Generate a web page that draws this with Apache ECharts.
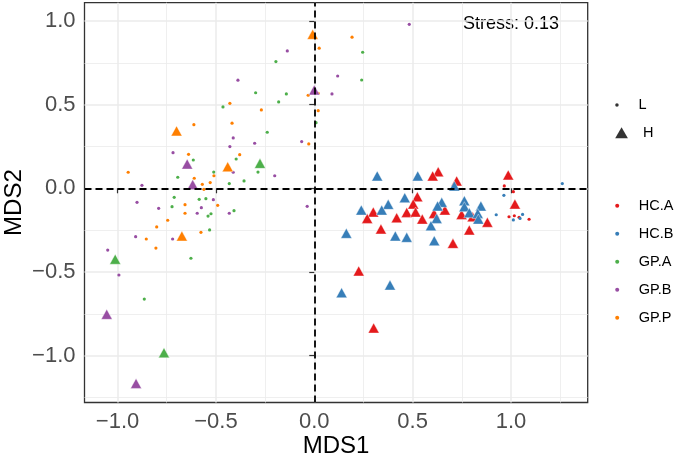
<!DOCTYPE html>
<html><head><meta charset="utf-8">
<script src="https://cdn.jsdelivr.net/npm/echarts@6/dist/echarts.min.js"></script>
<style>html,body{margin:0;padding:0;background:#fff}#c{width:685px;height:458px}</style>
</head><body><div id="c"></div>
<script>
// ---- data (MDS1, MDS2) ----
const groups = ['HC.A', 'HC.B', 'GP.A', 'GP.B', 'GP.P'];
const levels = ['L', 'H'];
const xTicks = [-1, -0.5, 0, 0.5, 1];
const yTicks = [-1, -0.5, 0, 0.5, 1];
const xMinor = [-0.75, -0.25, 0.25, 0.75, 1.25];
const yMinor = [-1.25, -0.75, -0.25, 0.25, 0.75];
const stressLabel = 'Stress: 0.13';

const HC_A_L = [[0.966,0.014],[1.012,-0.020],[0.990,-0.170],[1.017,-0.164],[1.041,-0.173],[1.092,-0.185]];
const HC_B_L = [[1.261,0.028],[0.964,-0.042],[0.925,-0.158],[1.059,-0.156],[1.046,-0.180],[1.012,-0.189]];
const GP_A_L = [[0.246,0.813],[0.241,0.647],[-0.195,0.757],[-0.298,0.571],[-0.142,0.564],[0.009,0.392],[-0.181,0.516],[-0.464,0.486],[-0.239,0.335],[-0.615,0.169],[-0.397,0.175],[-0.694,0.066],[-0.511,0.097],[-0.286,0.097],[-0.357,0.044],[-0.432,0.028],[-0.712,-0.054],[-0.585,-0.066],[-0.551,-0.062],[-0.723,-0.110],[-0.408,-0.134],[-0.525,-0.152],[-0.540,-0.166],[-0.532,-0.249],[-0.627,-0.418],[-0.864,-0.662]];
const GP_B_L = [[0.483,0.980],[0.119,0.671],[0.090,0.564],[-0.137,0.821],[-0.388,0.646],[-0.412,0.301],[-0.429,0.249],[-0.303,0.269],[-0.064,0.279],[-0.718,0.213],[-0.412,0.096],[-0.201,0.075],[-0.876,0.018],[-0.513,-0.068],[-0.791,-0.120],[-0.574,-0.116],[-0.432,-0.149],[-0.595,-0.149],[-0.720,-0.303],[-0.036,-0.108],[-0.901,-0.084],[-0.908,-0.289],[-1.050,-0.369],[-0.993,-0.518]];
const GP_P_L = [[0.192,0.903],[0.025,0.837],[-0.031,0.556],[0.020,0.568],[0.020,0.464],[-0.269,0.468],[-0.429,0.508],[-0.418,0.389],[-0.612,0.380],[-0.028,0.265],[-0.639,0.203],[-0.379,0.201],[-0.946,0.096],[-0.610,0.060],[-0.510,0.075],[-0.529,0.034],[-0.569,0.024],[-0.561,-0.006],[-0.657,-0.098],[-0.491,-0.102],[-0.657,-0.149],[-0.745,-0.191],[-0.801,-0.231],[-0.576,-0.263],[-0.805,-0.357],[-0.854,-0.303]];

const HC_A_H = [[0.630,0.099],[0.602,0.074],[0.724,0.044],[0.986,0.080],[1.020,-0.094],[0.524,-0.050],[0.503,-0.094],[0.300,-0.142],[0.269,-0.180],[0.419,-0.176],[0.470,-0.144],[0.515,-0.142],[0.549,-0.184],[0.609,-0.150],[0.664,-0.130],[0.749,-0.156],[0.805,-0.170],[0.880,-0.203],[0.339,-0.243],[0.788,-0.249],[0.705,-0.329],[0.226,-0.494],[0.302,-0.835]];
const HC_B_H = [[0.320,0.074],[0.526,0.074],[0.712,0.014],[0.460,-0.056],[0.376,-0.096],[0.239,-0.130],[0.343,-0.130],[0.648,-0.084],[0.627,-0.106],[0.622,-0.180],[0.593,-0.224],[0.763,-0.074],[0.763,-0.110],[0.847,-0.106],[0.788,-0.146],[0.831,-0.150],[0.834,-0.184],[0.163,-0.269],[0.412,-0.285],[0.470,-0.293],[0.610,-0.313],[0.385,-0.578],[0.139,-0.624]];
const GP_A_H = [[-0.276,0.149],[-1.012,-0.424],[-0.764,-0.983]];
const GP_B_H = [[0.000,0.588],[-0.646,0.145],[-0.618,0.022],[-1.055,-0.753],[-0.906,-1.166]];
const GP_P_H = [[-0.008,0.920],[-0.700,0.343],[-0.440,0.129],[-0.673,-0.285]];

const dataL = {'HC.A': HC_A_L, 'HC.B': HC_B_L, 'GP.A': GP_A_L, 'GP.B': GP_B_L, 'GP.P': GP_P_L};
const dataH = {'HC.A': HC_A_H, 'HC.B': HC_B_H, 'GP.A': GP_A_H, 'GP.B': GP_B_H, 'GP.P': GP_P_H};

// ---- styles ----
const palette = {'HC.A': '#E41A1C', 'HC.B': '#377EB8', 'GP.A': '#4DAF4A', 'GP.B': '#984EA3', 'GP.P': '#FF7F00'};
const FONT = "'Liberation Sans', Arial, Helvetica, sans-serif";
const xMin = -1.168, xMax = 1.39, yMin = -1.28, yMax = 1.109;
const fmt = v => (v < 0 ? '\u2212' : '') + Math.abs(v).toFixed(1);
const TRI = 'path://M5,0L10,8.66L0,8.66Z';

const series = [];
groups.forEach(g => series.push({
  name: g, type: 'scatter', data: dataL[g], symbol: 'circle', symbolSize: 3.2,
  itemStyle: {color: palette[g], opacity: 1}, silent: true, z: 2
}));
['GP.A', 'GP.P', 'GP.B', 'HC.A', 'HC.B'].forEach(g => series.push({
  name: g, type: 'scatter', data: dataH[g], symbol: 'triangle', symbolSize: [11, 10],
  itemStyle: {color: palette[g], opacity: 1, borderColor: '#fff', borderWidth: 0.4}, silent: true, z: 3
}));
series.push({name: 'L', type: 'scatter', data: [], symbol: 'circle', itemStyle: {color: '#000'}});
series.push({name: 'H', type: 'scatter', data: [], symbol: 'triangle', itemStyle: {color: '#000'}});
series.push({
  name: 'zero', type: 'scatter', data: [], z: 5,
  markLine: {
    silent: true, symbol: 'none', label: {show: false},
    lineStyle: {color: '#000', type: [7, 4], width: 1.8},
    data: [{xAxis: 0}, {yAxis: 0}]
  }
});

const legendText = {fontSize: 14.5, color: '#000', fontFamily: FONT, lineHeight: 16};

const option = {
  animation: false,
  backgroundColor: '#fff',
  grid: {left: 84.5, top: 2.7, width: 503.2, height: 399.8, show: true,
         borderColor: '#333333', borderWidth: 1.3, backgroundColor: '#fff',
         containLabel: false, outerBoundsMode: 'none'},
  xAxis: [
    {type: 'value', min: xMin, max: xMax, position: 'bottom',
     axisLine: {show: false},
     axisTick: {show: true, length: 5, lineStyle: {color: '#333', width: 1.2}, customValues: xTicks},
     axisLabel: {customValues: xTicks, formatter: fmt, color: '#4d4d4d', fontSize: 22, fontFamily: FONT, margin: 8},
     splitLine: {show: true, lineStyle: {color: '#ebebeb', width: 1.5}},
     name: 'MDS1', nameLocation: 'middle', nameGap: 32, nameMoveOverlap: false,
     nameTextStyle: {fontSize: 24, color: '#000', fontFamily: FONT}},
    {type: 'value', min: xMin, max: xMax, position: 'top',
     axisLine: {show: false}, axisTick: {show: false, customValues: xMinor},
     axisLabel: {show: false, customValues: xMinor},
     splitLine: {show: true, lineStyle: {color: '#ebebeb', width: 0.8}}}
  ],
  yAxis: [
    {type: 'value', min: yMin, max: yMax, position: 'left',
     axisLine: {show: false},
     axisTick: {show: true, length: 5, lineStyle: {color: '#333', width: 1.2}, customValues: yTicks},
     axisLabel: {customValues: yTicks, formatter: fmt, color: '#4d4d4d', fontSize: 22, fontFamily: FONT, margin: 9},
     splitLine: {show: true, lineStyle: {color: '#ebebeb', width: 1.5}},
     name: 'MDS2', nameLocation: 'middle', nameGap: 58, nameRotate: 90, nameMoveOverlap: false,
     nameTextStyle: {fontSize: 24, color: '#000', fontFamily: FONT}},
    {type: 'value', min: yMin, max: yMax, position: 'right',
     axisLine: {show: false}, axisTick: {show: false, customValues: yMinor},
     axisLabel: {show: false, customValues: yMinor},
     splitLine: {show: true, lineStyle: {color: '#ebebeb', width: 0.8}}}
  ],
  legend: [
    {data: [{name: 'L', icon: 'circle'}], orient: 'vertical', left: 610.2, top: 92,
     itemWidth: 33, itemHeight: 3.5, textStyle: legendText, selectedMode: false},
    {data: [{name: 'H', icon: TRI}], orient: 'vertical', left: 610.2, top: 119.7,
     itemWidth: 33, itemHeight: 11, symbolKeepAspect: true, textStyle: legendText, selectedMode: false},
    {data: groups.map(g => ({name: g, icon: 'circle'})), orient: 'vertical', left: 610.2, top: 192.7,
     itemWidth: 33, itemHeight: 4, itemGap: 12, textStyle: legendText, selectedMode: false}
  ],
  graphic: [
    {type: 'text', right: 126, top: 15, silent: true,
     style: {text: stressLabel, fontSize: 18, fontFamily: FONT, fill: '#000'}}
  ],
  series: series
};

const chart = echarts.init(document.getElementById('c'));
chart.setOption(option);
</script>
</body></html>
